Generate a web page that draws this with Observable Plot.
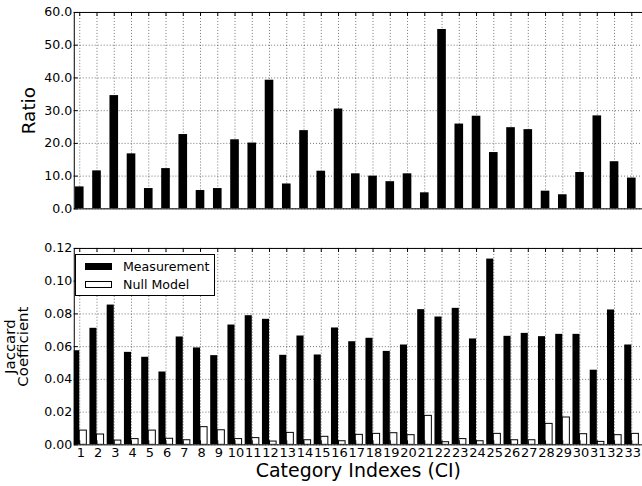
<!DOCTYPE html>
<html><head><meta charset="utf-8">
<script src="https://cdn.jsdelivr.net/npm/d3@7"></script>
<script src="https://cdn.jsdelivr.net/npm/@observablehq/plot@0.6"></script>
<style>
html,body{margin:0;padding:0;background:#fff;overflow:hidden;}
#wrap{position:relative;width:642px;height:486px;overflow:hidden;font-family:"DejaVu Sans",sans-serif;}
#top{position:absolute;left:0;top:0;}
#bot{position:absolute;left:0;top:230px;}
#legend{position:absolute;left:75px;top:254px;width:140px;height:42px;border:1px solid #000;background:#fff;box-sizing:border-box;font-size:12.6px;color:#000;}
.item{position:absolute;left:9px;height:14px;display:flex;align-items:center;}
.sw{width:27px;height:7px;border:1px solid #000;box-sizing:border-box;margin-right:11px;}
</style>
</head><body>
<div id="wrap"><div id="top"></div><div id="bot"></div>
<div id="legend">
<div class="item" style="top:4px"><span class="sw" style="background:#000"></span><span>Measurement</span></div>
<div class="item" style="top:22px"><span class="sw" style="background:#fff"></span><span>Null Model</span></div>
</div></div>
<script>
const categories = [1,2,3,4,5,6,7,8,9,10,11,12,13,14,15,16,17,18,19,20,21,22,23,24,25,26,27,28,29,30,31,32,33];
const ratio = [6.7,11.6,34.6,16.8,6.2,12.3,22.7,5.6,6.2,21.1,20.1,39.3,7.6,23.9,11.5,30.5,10.7,10.0,8.3,10.7,4.9,54.8,25.9,28.3,17.2,24.8,24.2,5.4,4.3,11.1,28.4,14.4,9.4];
const measurement = [0.0575,0.0712,0.0854,0.0565,0.0535,0.0445,0.0659,0.0592,0.0545,0.0732,0.0789,0.0767,0.0547,0.0665,0.0549,0.0714,0.0630,0.0651,0.0571,0.0610,0.0826,0.0781,0.0834,0.0647,0.1135,0.0663,0.0681,0.0661,0.0675,0.0675,0.0456,0.0824,0.0610];
const nullModel = [0.0087,0.0063,0.0026,0.0035,0.0087,0.0037,0.0028,0.0108,0.0089,0.0035,0.0041,0.0020,0.0073,0.0028,0.0049,0.0022,0.0061,0.0067,0.0071,0.0059,0.0177,0.0016,0.0035,0.0022,0.0067,0.0028,0.0028,0.0128,0.0167,0.0065,0.0018,0.0059,0.0067];
const ratioTicks = [0,10,20,30,40,50,60];
const jaccardTicks = [0,0.02,0.04,0.06,0.08,0.10,0.12];

const topData = categories.map((c,i)=>({ci:c, ratio:ratio[i]}));
const botData = categories.map((c,i)=>({ci:c, m:measurement[i], n:nullModel[i]}));

const W = 644, ML = 74, xDomain = [0.682, 33.62];
const gridStyle = {stroke:"#000", strokeOpacity:0.55, strokeDasharray:"1,2", strokeWidth:1};
const style = {fontFamily:"DejaVu Sans", fontSize:"12.6px", color:"#000", background:"transparent", overflow:"visible"};

function inwardTicks(yTicks, plotH){
  const plotW = W - ML;
  return [
    Plot.tickX(categories, {x:d=>d, stroke:"#000", insetBottom: plotH-4}),
    Plot.tickX(categories, {x:d=>d, stroke:"#000", insetTop: plotH-4}),
    Plot.tickY(yTicks, {y:d=>d, stroke:"#000", insetRight: plotW-4})
  ];
}

const topH = 230, topMT = 12, topMB = 21;
const topPlot = Plot.plot({
  width: W, height: topH, marginLeft: ML, marginRight: 0, marginTop: topMT, marginBottom: topMB,
  style,
  x: {type:"linear", domain: xDomain, axis: null},
  y: {domain: [0,60], axis: null},
  marks: [
    Plot.gridX(categories, gridStyle),
    Plot.gridY(ratioTicks, gridStyle),
    Plot.rectY(topData, {x1: d=>d.ci-0.25, x2: d=>d.ci+0.25, y: "ratio", fill:"#000", clip: true}),
    ...inwardTicks(ratioTicks, topH-topMT-topMB),
    Plot.frame({stroke:"#000", strokeWidth:1}),
    Plot.axisY(ratioTicks, {tickSize:0, tickPadding:2, tickFormat: d3.format(".1f"), label: null, fontSize: 12.6}),
    Plot.text(["Ratio"], {frameAnchor:"left", text: d=>d, rotate:-90, dx:-45, fontSize:18.5, textAnchor:"middle", lineAnchor:"middle"})
  ]
});
document.getElementById("top").appendChild(topPlot);

const botH = 256, botMT = 18, botMB = 41;
const botPlot = Plot.plot({
  width: W, height: botH, marginLeft: ML, marginRight: 0, marginTop: botMT, marginBottom: botMB,
  style,
  x: {type:"linear", domain: xDomain, axis: null},
  y: {domain: [0,0.12], axis: null},
  marks: [
    Plot.gridX(categories, gridStyle),
    Plot.gridY(jaccardTicks, gridStyle),
    Plot.rectY(botData, {x1: d=>d.ci-0.41, x2: d=>d.ci, y: "m", fill:"#000", clip: true}),
    Plot.rectY(botData, {x1: d=>d.ci, x2: d=>d.ci+0.41, y: "n", fill:"#fff", stroke:"#000", strokeWidth:1, clip: true}),
    ...inwardTicks(jaccardTicks, botH-botMT-botMB),
    Plot.frame({stroke:"#000", strokeWidth:1}),
    Plot.axisY(jaccardTicks, {tickSize:0, tickPadding:2, tickFormat: d3.format(".2f"), label: null, fontSize: 12.6}),
    Plot.axisX(categories, {tickSize:0, tickPadding:3, tickFormat: d=>String(d), label: null, fontSize: 13, dx: 1}),
    Plot.text(["Jaccard\nCoefficient"], {frameAnchor:"left", text: d=>d, rotate:-90, dx:-57, fontSize:15, lineHeight:0.85, textAnchor:"middle", lineAnchor:"middle"}),
    Plot.text(["Category Indexes (CI)"], {frameAnchor:"bottom", text: d=>d, dy:26, fontSize:19, textAnchor:"middle", lineAnchor:"middle"})
  ]
});
document.getElementById("bot").appendChild(botPlot);
</script>
</body></html>
